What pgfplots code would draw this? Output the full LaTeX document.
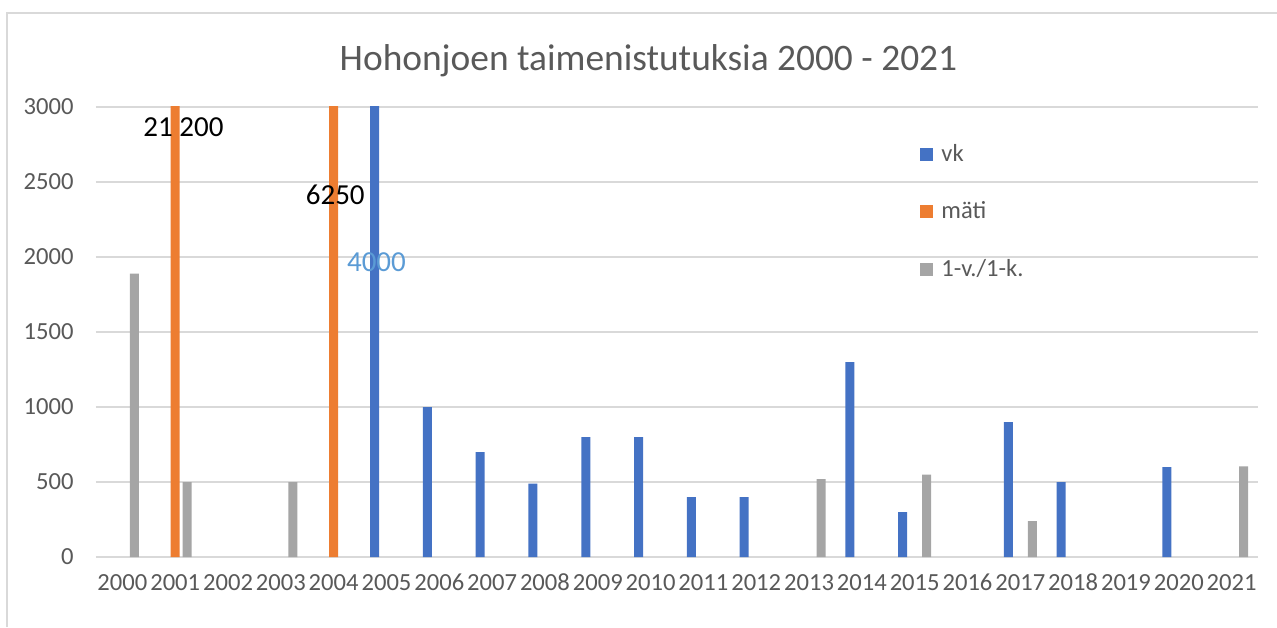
\documentclass[border=0pt]{standalone}
\usepackage{fontspec}
\setmainfont{Carlito}
\usepackage{pgfplots}
\pgfplotsset{compat=1.18}
\definecolor{vkblue}{HTML}{4472C4}
\definecolor{matiorange}{HTML}{ED7D31}
\definecolor{poikgray}{HTML}{A5A5A5}
\definecolor{txtgray}{HTML}{595959}
\definecolor{gridgray}{HTML}{D9D9D9}
\definecolor{lblblue}{HTML}{5B9BD5}

\begin{document}
\begin{tikzpicture}
\begin{axis}[
    at={(48pt,35pt)}, anchor=south west,
    scale only axis,
    width=581pt, height=225pt,
    ybar, bar width=4.5pt,
    xmin=-0.5, xmax=21.5,
    ymin=0, ymax=3000,
    xtick={0,...,21},
    xticklabels={2000,2001,2002,2003,2004,2005,2006,2007,2008,2009,2010,2011,2012,2013,2014,2015,2016,2017,2018,2019,2020,2021},
    ytick={0,500,...,3000},
    axis line style={draw=none},
    major tick length=0pt,
    ymajorgrids,
    grid style={gridgray, line width=0.75pt},
    /pgf/number format/assume math mode=true,
    /pgf/number format/1000 sep={},
    tick label style={font=\fontsize{12.3}{14}\selectfont, text=txtgray, inner sep=0pt},
    yticklabel style={anchor=east, xshift=-11pt},
    xticklabel style={anchor=base, yshift=-16.5pt},
    title={Hohonjoen taimenistutuksia 2000 - 2021},
    title style={font=\fontsize{18.7}{22}\selectfont, text=txtgray, at={(0.5,1)}, anchor=center, yshift=17pt, xshift=-14.25pt},
    legend image code/.code={\fill[#1,draw=none] (0pt,-3.25pt) rectangle (6.5pt,3.25pt); \path (9.5pt,0pt);},
    legend style={at={(0.704,0.93)}, anchor=north west, draw=none, fill=none,
        font=\fontsize{12.3}{14}\selectfont, text=txtgray, row sep=16.5pt,
        nodes={inner sep=1pt}},
    legend cell align=left,
]
\addplot[fill=vkblue, draw=none, bar shift=-6pt] coordinates {
    (5,4000) (6,1000) (7,700) (8,490) (9,800) (10,800) (11,400) (12,400)
    (14,1300) (15,300) (17,900) (18,500) (20,600)};
\addlegendentry{vk}
\addplot[fill=matiorange, draw=none, bar shift=0pt] coordinates {
    (1,21200) (4,6250)};
\addlegendentry{mäti}
\addplot[fill=poikgray, draw=none, bar shift=6pt] coordinates {
    (0,1890) (1,500) (3,500) (13,520) (15,550) (17,240) (21,605)};
\addlegendentry{1-v./1-k.}

\node[font=\fontsize{14.5}{16}\selectfont, text=black] at (axis cs:1.155,2867) {21 200};
\node[font=\fontsize{14.5}{16}\selectfont, text=black] at (axis cs:4.03,2413) {6250};
\node[font=\fontsize{14.5}{16}\selectfont, text=lblblue] at (axis cs:4.81,1967) {4000};
\end{axis}
\begin{scope}[x=0.5pt, y=0.5pt]
\useasboundingbox (0,0) rectangle (1277,627);
\draw[gridgray, line width=0.75pt] (7,0) -- (7,614) -- (1277,614);
\end{scope}
\end{tikzpicture}
\end{document}
